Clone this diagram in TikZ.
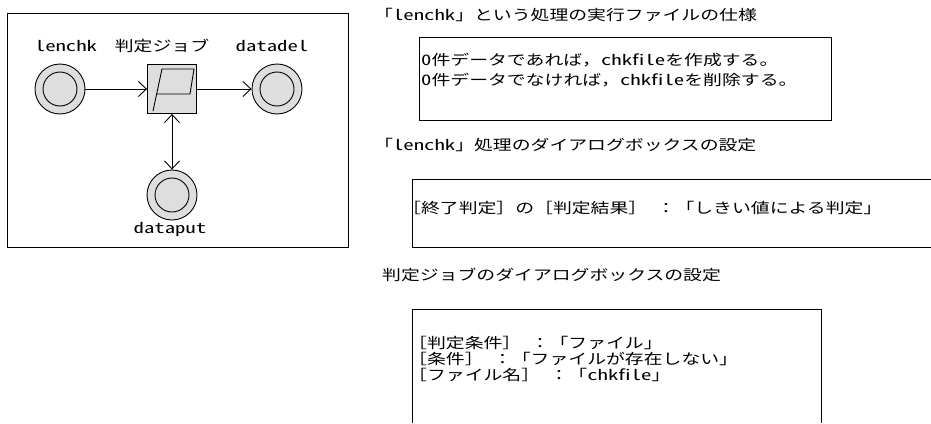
\documentclass[tikz,border=0pt]{standalone}
\usepackage{graphicx}
\usepackage{fontspec}
\setmainfont{Noto Sans CJK JP}
\newfontfamily\hwfont{Noto Sans CJK JP}[RawFeature=+hwid]
\usetikzlibrary{arrows.meta,calc}

% Latin runs set in half-width forms
\newcommand\hw[1]{\scalebox{1.1}[1]{\hwfont #1}}
% half-width gap
\newcommand\hs{\hspace{0.5em}}
% text in the diagram is set slightly wide
\newcommand\jwide[1]{\scalebox{1.3}[1]{#1}}

\definecolor{jobgray}{HTML}{DEDEDE}

\tikzset{
  txt/.style={inner sep=0pt, anchor=west, font=\fontsize{14.5pt}{16pt}\selectfont},
  lbl/.style={inner sep=0pt, font=\fontsize{14.5pt}{16pt}\selectfont},
  outer/.style={circle, draw=black, line width=0.9pt, fill=jobgray, minimum size=50pt, inner sep=0pt},
  inner/.style={circle, draw=black, line width=0.9pt, fill=jobgray, minimum size=34pt, inner sep=0pt},
  jobbox/.style={rectangle, draw=black, line width=0.9pt, fill=jobgray, minimum size=49pt, inner sep=0pt},
  conn/.style={line width=0.9pt, -{Straight Barb[length=8pt,width=15pt]}},
  conn2/.style={line width=0.9pt, {Straight Barb[length=8pt,width=15pt]}-{Straight Barb[length=8pt,width=15pt]}},
  frame/.style={line width=1pt, draw=black}
}

\begin{document}
\begin{tikzpicture}[x=1pt, y=-1pt]
\useasboundingbox (0,0) rectangle (931,423);

% ---- job net ----
\draw[frame] (7.5,13.5) rectangle (348.5,247);

\node[outer] (lenchk) at (60,89) {};
\node[inner] (lenchkin) at (lenchk) {};
\node[jobbox] (job) at (172,89) {};
\node[outer] (datadel) at (277,89) {};
\node[inner] (datadelin) at (datadel) {};
\node[outer] (dataput) at (172,195) {};
\node[inner] (dataputin) at (dataput) {};

% judgment job icon
\draw[line width=0.9pt]
  ($(job)+(-15,5)$) -- ($(job)+(18,5)$) -- ($(job)+(22,-20)$) -- ($(job)+(-10,-20)$) -- ($(job)+(-19,22)$);

\node[lbl] (lenchklbl) at (66,46) {\jwide{\hw{lenchk}}};
\node[lbl] (joblbl) at (162,46) {\jwide{判定ジョブ}};
\node[lbl] (datadellbl) at (272,46) {\jwide{\hw{datadel}}};
\node[lbl] (dataputlbl) at (170,229) {\jwide{\hw{dataput}}};

\draw[conn] (lenchk) -- (job);
\draw[conn] (job) -- (datadel);
\draw[conn2] (job) -- (dataput);

% ---- specification of lenchk ----
\node[txt] (h1) at (374,15) {\jwide{「\hw{lenchk}」という処理の実行ファイルの仕様}};
\draw[frame] (419,37) rectangle (831,120);
\node[txt] (b1a) at (421,60) {\jwide{\hw{0}件データであれば，\hw{chkfile}を作成する。}};
\node[txt] (b1b) at (421,80) {\jwide{\hw{0}件データでなければ，\hw{chkfile}を削除する。}};

% ---- dialog box of lenchk ----
\node[txt] (h2) at (374,145) {\jwide{「\hw{lenchk}」処理のダイアログボックスの設定}};
\draw[frame] (931,179) -- (412,179) -- (412,247) -- (931,247);
\node[txt] (b2) at (402,208) {\jwide{［終了判定］の［判定結果］\hs：「しきい値による判定」}};

% ---- dialog box of the judgment job ----
\node[txt] (h3) at (382,275) {\jwide{判定ジョブのダイアログボックスの設定}};
\draw[frame] (412,423) -- (412,309) -- (821,309) -- (821,423);
\node[txt] (b3a) at (408,343) {\jwide{［判定条件］\hs：「ファイル」}};
\node[txt] (b3b) at (408,359) {\jwide{［条件］\hs：「ファイルが存在しない」}};
\node[txt] (b3c) at (408,375) {\jwide{［ファイル名］\hs：「\hw{chkfile}」}};
\end{tikzpicture}
\end{document}
